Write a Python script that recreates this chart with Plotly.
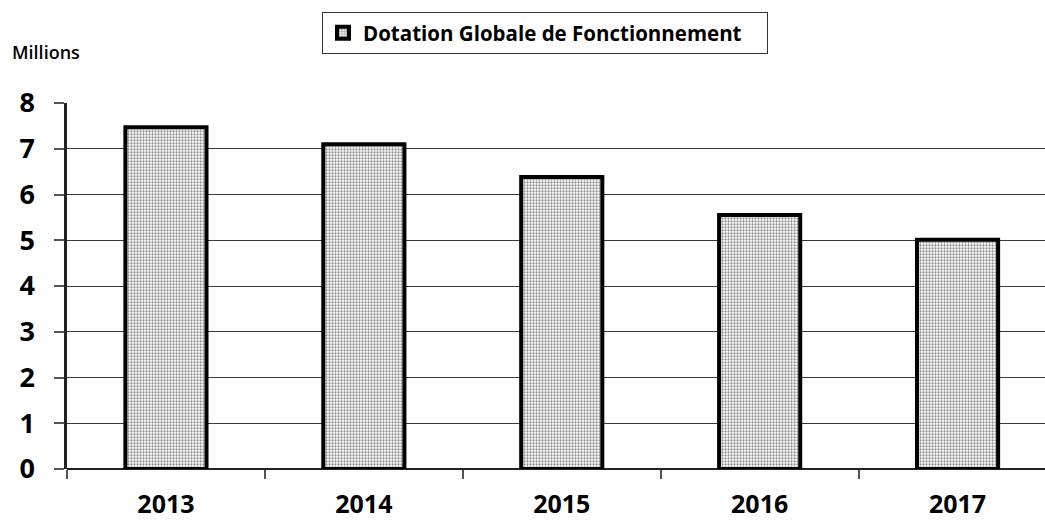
import plotly.graph_objects as go

years = ["2013", "2014", "2015", "2016", "2017"]
dgf_millions = [7.47, 7.10, 6.38, 5.55, 5.01]
series_name = "Dotation Globale de Fonctionnement"
y_ticks = [0, 1, 2, 3, 4, 5, 6, 7, 8]

FONT = "Open Sans"

fig = go.Figure()
fig.add_trace(go.Bar(
    x=years,
    y=dgf_millions,
    name=series_name,
    width=0.41,
    marker=dict(
        color="white",
        line=dict(color="black", width=4),
        pattern=dict(shape=".", fgcolor="#222222", bgcolor="white", size=3, solidity=0.45),
    ),
    showlegend=True,
))

fig.update_layout(
    width=1045,
    height=520,
    margin=dict(l=67, r=0, t=103, b=51, autoexpand=False),
    paper_bgcolor="white",
    plot_bgcolor="white",
    font=dict(family=FONT, color="black"),
    showlegend=True,
    legend=dict(
        orientation="h",
        x=(322 - 67) / 978,
        xanchor="left",
        y=(469 - 12) / 366,
        yanchor="top",
        bgcolor="white",
        bordercolor="#333333",
        borderwidth=1,
        font=dict(family=FONT, size=20.5, weight="bold", color="black"),
        entrywidth=399,
        itemwidth=30,
    ),
)

fig.update_xaxes(
    type="category",
    range=[-0.5, -0.5 + 978 / 197.9],
    showgrid=False,
    ticks="outside",
    tickson="boundaries",
    ticklen=9,
    tickcolor="#555555",
    tickwidth=1.5,
    tickfont=dict(family=FONT, size=25, weight="bold", color="black"),
    ticklabelstandoff=18,
    showline=False,
)

fig.update_yaxes(
    range=[0, 8],
    tickvals=y_ticks,
    showgrid=True,
    gridcolor="#3a3a3a",
    gridwidth=1.3,
    zeroline=True,
    zerolinecolor="#222222",
    zerolinewidth=2,
    showline=True,
    linecolor="#222222",
    linewidth=2.5,
    ticks="outside",
    ticklen=10,
    tickcolor="#555555",
    tickwidth=1.5,
    tickfont=dict(family=FONT, size=27, weight="bold", color="black"),
    ticklabelstandoff=14,
)

fig.add_annotation(
    text="Millions",
    xref="paper", yref="paper",
    x=(10 - 67) / 978, y=(469 - 52) / 366,
    xanchor="left", yanchor="middle",
    showarrow=False,
    font=dict(family=FONT, size=18, weight=600, color="black"),
)

fig.write_html(
    "out.html",
    config={"displayModeBar": False},
    post_script="document.body.style.margin='0';document.body.style.overflow='hidden';",
)
